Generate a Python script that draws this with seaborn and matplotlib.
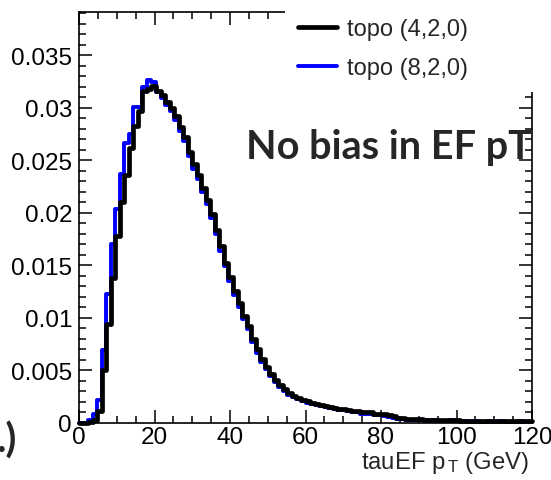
import numpy as np
import pandas as pd
import matplotlib
matplotlib.use("Agg")
import matplotlib.pyplot as plt
import seaborn as sns
from matplotlib.lines import Line2D
from matplotlib.patches import Rectangle
from matplotlib.ticker import MultipleLocator, FuncFormatter

# ---- data: histogram contents, 100 bins of 1.2 GeV from 0 to 120 ----
n_bins = 100
x_range = (0, 120)

topo_420 = [
    0.0000, 0.0000, 0.0001, 0.0003, 0.0011, 0.0050, 0.0094, 0.0138, 0.0178, 0.0210,
    0.0236, 0.0262, 0.0283, 0.0297, 0.0316, 0.0318, 0.0321, 0.0316, 0.0312, 0.0305,
    0.0300, 0.0292, 0.0282, 0.0272, 0.0258, 0.0246, 0.0236, 0.0224, 0.0212, 0.0199,
    0.0184, 0.0168, 0.0152, 0.0139, 0.0126, 0.0114, 0.0102, 0.0092, 0.0080, 0.0070,
    0.0061, 0.0053, 0.0047, 0.0041, 0.0036, 0.0032, 0.0029, 0.0026, 0.0024, 0.0022,
    0.0021, 0.0019, 0.0018, 0.0017, 0.0016, 0.0015, 0.0014, 0.0013, 0.0013, 0.0012,
    0.0011, 0.0011, 0.0010, 0.0010, 0.0010, 0.0009, 0.0009, 0.0009, 0.0008, 0.0007,
    0.0005, 0.0005, 0.0004, 0.0004, 0.0004, 0.0004, 0.0003, 0.0003, 0.0003, 0.0003,
    0.0003, 0.0003, 0.0003, 0.0003, 0.0002, 0.0002, 0.0002, 0.0002, 0.0002, 0.0002,
    0.0002, 0.0002, 0.0002, 0.0002, 0.0002, 0.0002, 0.0002, 0.0002, 0.0002, 0.0002,
]

topo_820 = [
    0.0000, 0.0000, 0.0003, 0.0009, 0.0022, 0.0069, 0.0123, 0.0170, 0.0204, 0.0237,
    0.0266, 0.0275, 0.0301, 0.0301, 0.0320, 0.0326, 0.0324, 0.0315, 0.0309, 0.0303,
    0.0297, 0.0288, 0.0278, 0.0268, 0.0254, 0.0242, 0.0232, 0.0220, 0.0208, 0.0195,
    0.0180, 0.0164, 0.0149, 0.0135, 0.0122, 0.0110, 0.0099, 0.0089, 0.0077, 0.0067,
    0.0058, 0.0051, 0.0045, 0.0039, 0.0034, 0.0030, 0.0027, 0.0025, 0.0023, 0.0021,
    0.0019, 0.0018, 0.0017, 0.0016, 0.0015, 0.0014, 0.0013, 0.0012, 0.0012, 0.0011,
    0.0010, 0.0010, 0.0009, 0.0009, 0.0009, 0.0008, 0.0008, 0.0007, 0.0006, 0.0005,
    0.0004, 0.0004, 0.0003, 0.0003, 0.0003, 0.0003, 0.0003, 0.0002, 0.0003, 0.0002,
    0.0002, 0.0002, 0.0003, 0.0002, 0.0001, 0.0002, 0.0001, 0.0002, 0.0001, 0.0001,
    0.0002, 0.0001, 0.0001, 0.0002, 0.0001, 0.0001, 0.0001, 0.0002, 0.0001, 0.0001,
]

series_labels = ["topo (4,2,0)", "topo (8,2,0)"]
series_colors = ["black", "#0000ff"]
x_label = r"tauEF p$_{\,\mathregular{T}}$ (GeV)"
annotation = "No bias in EF pT"
cut_text = ".)"

bin_width = (x_range[1] - x_range[0]) / n_bins
centers = x_range[0] + bin_width * (np.arange(n_bins) + 0.5)
df = pd.DataFrame({
    "pt": np.concatenate([centers, centers]),
    "w": np.concatenate([topo_420, topo_820]),
    "config": [series_labels[0]] * n_bins + [series_labels[1]] * n_bins,
})

# ---- style ----
sns.set_style("ticks")
plt.rcParams["font.family"] = ["Liberation Sans", "DejaVu Sans"]
plt.rcParams["mathtext.fontset"] = "custom"
plt.rcParams["mathtext.rm"] = "Liberation Sans"
plt.rcParams["mathtext.it"] = "Liberation Sans"

W, H = 551, 481
fig = plt.figure(figsize=(W / 100, H / 100), dpi=100)
ax = fig.add_axes([79 / W, 1 - 424 / H, (532 - 79) / W, (424 - 13) / H])

# blue first, black on top
sns.histplot(data=df[df.config == series_labels[1]], x="pt", weights="w",
             binwidth=bin_width, binrange=x_range,
             element="step", fill=False, color=series_colors[1], linewidth=2.8,
             clip_on=False, ax=ax)
sns.histplot(data=df[df.config == series_labels[0]], x="pt", weights="w",
             binwidth=bin_width, binrange=x_range,
             element="step", fill=False, color=series_colors[0], linewidth=3.4,
             clip_on=False, ax=ax)

ax.set_xlim(0, 120)
ax.set_ylim(0, 0.0391)
ax.set_xlabel("")
ax.set_ylabel("")

for s in ax.spines.values():
    s.set_visible(True)
    s.set_linewidth(1.2)
    s.set_color("black")

ax.xaxis.set_major_locator(MultipleLocator(20))
ax.xaxis.set_minor_locator(MultipleLocator(5))
ax.yaxis.set_major_locator(MultipleLocator(0.005))
ax.yaxis.set_minor_locator(MultipleLocator(0.001))
ax.yaxis.set_major_formatter(FuncFormatter(lambda v, p: "%g" % round(v, 4)))
ax.tick_params(which="both", direction="in", top=True, right=True,
               labelsize=17.5, colors="black", width=1.1)
ax.tick_params(which="major", length=9.5)
ax.tick_params(which="minor", length=5)
ax.tick_params(axis="x", which="major", pad=2.5)
ax.tick_params(axis="y", which="major", pad=5)

# x-axis title, right aligned under axis
fig.text(529 / W, 1 - 469 / H, x_label, ha="right", va="baseline", fontsize=17.2)

# white box hiding top-right corner (legend area)
fig.add_artist(Rectangle((285 / W, 1 - 93 / H), (W - 285) / W, 93 / H,
                         transform=fig.transFigure, facecolor="white",
                         edgecolor="none", zorder=3))

handles = [Line2D([], [], color=series_colors[0], lw=3.4),
           Line2D([], [], color=series_colors[1], lw=2.8)]
leg = fig.legend(handles, series_labels, loc="upper left",
                 bbox_to_anchor=(298 / W, 1 - 19 / H), frameon=False,
                 fontsize=17, handlelength=1.65, handletextpad=0.42,
                 labelspacing=0.72, borderpad=0.0, borderaxespad=0.0)
leg.set_zorder(4)

fig.text(532 / W, 1 - 148 / H, annotation, ha="right", va="center",
         fontsize=28.5, fontweight="bold", family=["Lato", "DejaVu Sans"], zorder=5)
fig.text(17 / W, 1 - 441 / H, cut_text, ha="right", va="center",
         fontsize=28.5, fontweight="bold", family=["Lato", "DejaVu Sans"])

fig.savefig("out.png", dpi=100)
